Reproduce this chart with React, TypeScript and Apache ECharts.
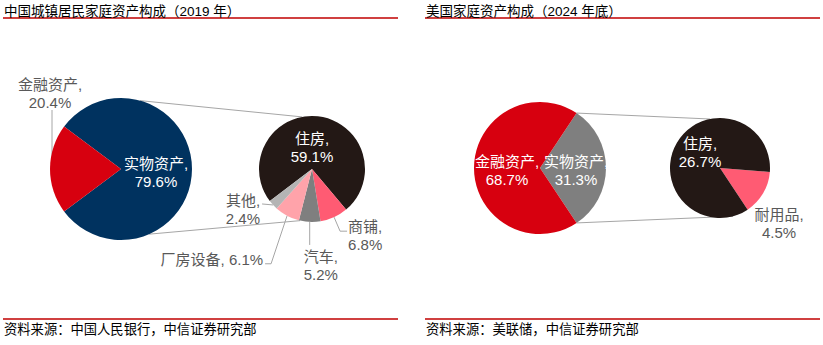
import React, { useEffect, useRef } from 'react';
import * as echarts from 'echarts';

// ---------------- data ----------------
const titles = ['中国城镇居民家庭资产构成（2019 年）', '美国家庭资产构成（2024 年底）'];
const sources = ['资料来源：中国人民银行，中信证券研究部', '资料来源：美联储，中信证券研究部'];

const cnAssetNames = ['实物资产', '金融资产'];
const cnAssetValues = [79.6, 20.4];
const cnRealNames = ['住房', '商铺', '汽车', '厂房设备', '其他'];
const cnRealValues = [59.1, 6.8, 5.2, 6.1, 2.4];

const usAssetNames = ['实物资产', '金融资产'];
const usAssetValues = [31.3, 68.7];
const usRealNames = ['耐用品', '住房'];
const usRealValues = [4.5, 26.7];

// ---------------- styles ----------------
const cnAssetColors = ['#00325F', '#D7000F'];
const cnRealColors = ['#231815', '#FF5B73', '#7F7F7F', '#FFA3AA', '#B4B4B4'];
const usAssetColors = ['#7F7F7F', '#D7000F'];
const usRealColors = ['#FF5B73', '#231815'];

const FONT = '"Liberation Sans", Arial, "Noto Sans CJK SC", sans-serif';
const LABEL_GRAY = '#595959';
const LINE_GRAY = '#A6A6A6';
const RULE_RED = '#C00000';

type Geom = { cx: number; cy: number; r: number; start: number };
const sum = (a: number[]) => a.reduce((s, v) => s + v, 0);

const CN_BIG: Geom = { cx: 121, cy: 169, r: 71, start: 180 - (cnAssetValues[1] / sum(cnAssetValues)) * 180 };
const CN_SMALL: Geom = { cx: 312, cy: 169, r: 53, start: 217.3 };
const US_BIG: Geom = { cx: 540, cy: 168, r: 66, start: (usAssetValues[0] / sum(usAssetValues)) * 180 };
const US_SMALL: Geom = { cx: 720, cy: 168, r: 50, start: 355.5 };

const polar = (g: Geom, deg: number, rr?: number) => {
  const a = (deg * Math.PI) / 180;
  const R = rr == null ? g.r : rr;
  return [g.cx + R * Math.cos(a), g.cy - R * Math.sin(a)];
};
const midAngle = (g: Geom, values: number[], i: number) => {
  const total = sum(values);
  const before = sum(values.slice(0, i));
  return g.start - ((before + values[i] / 2) / total) * 360;
};

type Place = {
  anchor: 'center' | 'edge';
  dx: number;
  dy: number;
  align: 'left' | 'center' | 'right';
  line?: number[][];
};

const makeLayout = (g: Geom, values: number[], places: Record<number, Place>) => (p: any) => {
  const pl = places[p.dataIndex];
  if (!pl) return {};
  const base = pl.anchor === 'center' ? [g.cx, g.cy] : polar(g, midAngle(g, values, p.dataIndex));
  const res: any = {
    x: base[0] + pl.dx,
    y: base[1] + pl.dy,
    align: pl.align,
    verticalAlign: 'middle',
  };
  if (pl.line) res.labelLinePoints = pl.line.map((o) => [base[0] + o[0], base[1] + o[1]]);
  return res;
};

const fmt2 = (p: any) => `${p.name},\n${p.value}%`;
const fmt1 = (p: any) => `${p.name}, ${p.value}%`;

const insideLabel = { show: true, position: 'inside', color: '#ffffff' };
const outsideLabel = { show: true, position: 'outside', color: LABEL_GRAY };

const baseSeries = (g: Geom) => ({
  type: 'pie',
  silent: true,
  avoidLabelOverlap: false,
  center: [g.cx, g.cy],
  radius: g.r,
  startAngle: g.start,
  clockwise: true,
  emphasis: { disabled: true },
  itemStyle: { borderWidth: 0 },
  label: {
    show: true,
    fontSize: 15,
    lineHeight: 18,
    fontFamily: FONT,
    formatter: fmt2,
    textBorderWidth: 0,
  },
  labelLine: { show: false, lineStyle: { color: LINE_GRAY, width: 1 } },
});

const cnBigPlaces: Record<number, Place> = {
  0: { anchor: 'center', dx: 35, dy: 3.5, align: 'center' },
  1: { anchor: 'edge', dx: 0, dy: -76, align: 'center', line: [[2, -1], [2, -59], [2, -59]] },
};
const cnSmallPlaces: Record<number, Place> = {
  0: { anchor: 'center', dx: 0, dy: -21.6, align: 'center' },
  1: { anchor: 'edge', dx: 14, dy: 18, align: 'left', line: [[0, 0], [6, 14], [13, 14]] },
  2: { anchor: 'edge', dx: -6, dy: 43.5, align: 'left', line: [[0, 0], [0, 23], [0, 23]] },
  3: { anchor: 'edge', dx: -24, dy: 44, align: 'right', line: [[0, 0], [-16, 48], [-22, 48]] },
  4: { anchor: 'edge', dx: -13, dy: 5, align: 'right', line: [[0, 0], [-11, -1], [-11, -1]] },
};
const usBigPlaces: Record<number, Place> = {
  0: { anchor: 'center', dx: 36, dy: 2, align: 'center' },
  1: { anchor: 'center', dx: -33, dy: 2, align: 'center' },
};
const usSmallPlaces: Record<number, Place> = {
  0: { anchor: 'edge', dx: 16, dy: 30, align: 'center' },
  1: { anchor: 'center', dx: -20, dy: -16, align: 'center' },
};

const buildOption = () => {
  const cnBigData = cnAssetNames.map((n, i) => ({
    name: n,
    value: cnAssetValues[i],
    itemStyle: { color: cnAssetColors[i] },
    label: i === 0 ? insideLabel : outsideLabel,
    labelLine: { show: i !== 0 },
  }));
  const cnSmallData = cnRealNames.map((n, i) => ({
    name: n,
    value: cnRealValues[i],
    itemStyle: { color: cnRealColors[i] },
    label: i === 0 ? insideLabel : { ...outsideLabel, formatter: n === '厂房设备' ? fmt1 : fmt2 },
    labelLine: { show: i !== 0 },
  }));
  const usBigData = usAssetNames.map((n, i) => ({
    name: n,
    value: usAssetValues[i],
    itemStyle: { color: usAssetColors[i] },
    label: insideLabel,
  }));
  const usSmallData = usRealNames.map((n, i) => ({
    name: n,
    value: usRealValues[i],
    itemStyle: { color: usRealColors[i] },
    label: n === '住房' ? insideLabel : outsideLabel,
    labelLine: { show: false },
  }));

  const conn = (a: Geom, da: number, b: Geom, db: number) => {
    const p1 = polar(a, da);
    const p2 = polar(b, db);
    return {
      type: 'line',
      silent: true,
      z: 0,
      shape: { x1: p1[0], y1: p1[1], x2: p2[0], y2: p2[1] },
      style: { stroke: LINE_GRAY, lineWidth: 1 },
    };
  };
  const rule = (x1: number, x2: number, y: number) => ({
    type: 'line',
    silent: true,
    shape: { x1, y1: y, x2, y2: y },
    style: { stroke: RULE_RED, lineWidth: 1.3 },
  });

  const titleStyle = { fontSize: 13.5, fontWeight: 'normal', color: '#000000', fontFamily: FONT };
  const sourceStyle = { fontSize: 13.3, fontWeight: 'normal', color: '#000000', fontFamily: FONT };

  return {
    animation: false,
    title: [
      { text: titles[0], left: 4, top: 4.5, padding: 0, textStyle: titleStyle },
      { text: titles[1], left: 426, top: 4.5, padding: 0, textStyle: titleStyle },
      { text: sources[0], left: 4, top: 323.3, padding: 0, textStyle: sourceStyle },
      { text: sources[1], left: 426, top: 323.3, padding: 0, textStyle: sourceStyle },
    ],
    graphic: {
      elements: [
        rule(3, 398, 18),
        rule(425, 820, 18),
        rule(3, 398, 319),
        rule(425, 820, 319),
        conn(CN_BIG, 74.4, CN_SMALL, 100.7),
        conn(CN_BIG, -66.6, CN_SMALL, -103),
        conn(US_BIG, US_BIG.start, US_SMALL, 101.5),
        conn(US_BIG, -US_BIG.start, US_SMALL, -75),
      ],
    },
    series: [
      { ...baseSeries(CN_BIG), data: cnBigData, labelLayout: makeLayout(CN_BIG, cnAssetValues, cnBigPlaces) },
      { ...baseSeries(CN_SMALL), data: cnSmallData, labelLayout: makeLayout(CN_SMALL, cnRealValues, cnSmallPlaces) },
      { ...baseSeries(US_BIG), data: usBigData, labelLayout: makeLayout(US_BIG, usAssetValues, usBigPlaces) },
      { ...baseSeries(US_SMALL), data: usSmallData, labelLayout: makeLayout(US_SMALL, usRealValues, usSmallPlaces) },
    ],
  };
};

export default function App() {
  const ref = useRef<HTMLDivElement>(null);
  useEffect(() => {
    if (!ref.current) return;
    const chart = echarts.init(ref.current, undefined, { renderer: 'svg' });
    chart.setOption(buildOption() as any);
    return () => chart.dispose();
  }, []);
  return (
    <div
      ref={ref}
      style={{ position: 'fixed', left: 0, top: 0, width: 823, height: 345, background: '#ffffff' }}
    />
  );
}
